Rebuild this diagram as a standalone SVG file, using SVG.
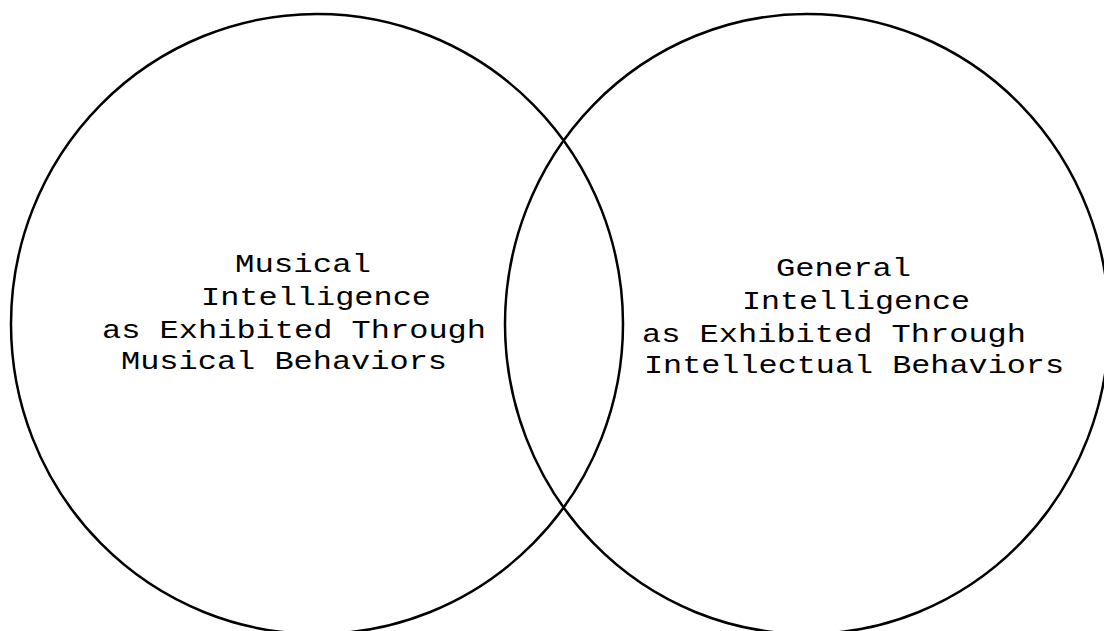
<svg xmlns="http://www.w3.org/2000/svg" width="1104" height="631" viewBox="0 0 1104 631">
<style>
.c{fill:none;stroke:#000;stroke-width:2.5}
.t{font-family:"Liberation Mono","Courier New",monospace;font-size:26px;fill:#000}
</style>
<rect width="1104" height="631" fill="#fff"/>
<g id="musical">
<ellipse class="c" cx="317" cy="324" rx="306" ry="310"/>
<text class="t" x="235" y="272" textLength="136" lengthAdjust="spacingAndGlyphs">Musical</text>
<text class="t" x="201" y="305" textLength="230" lengthAdjust="spacingAndGlyphs">Intelligence</text>
<text class="t" x="102" y="338" textLength="384" lengthAdjust="spacingAndGlyphs">as Exhibited Through</text>
<text class="t" x="121" y="369" textLength="326" lengthAdjust="spacingAndGlyphs">Musical Behaviors</text>
</g>
<g id="general">
<ellipse class="c" cx="807" cy="324" rx="302" ry="310"/>
<text class="t" x="776" y="276" textLength="135" lengthAdjust="spacingAndGlyphs">General</text>
<text class="t" x="742" y="309" textLength="228" lengthAdjust="spacingAndGlyphs">Intelligence</text>
<text class="t" x="642" y="342" textLength="384" lengthAdjust="spacingAndGlyphs">as Exhibited Through</text>
<text class="t" x="644" y="373" textLength="420" lengthAdjust="spacingAndGlyphs">Intellectual Behaviors</text>
</g>
<g id="connectors"/>
</svg>
